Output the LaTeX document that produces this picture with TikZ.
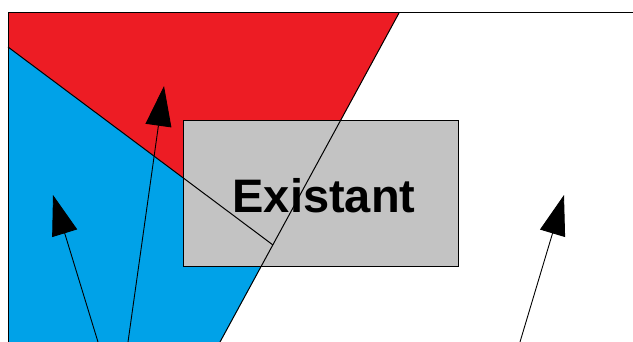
\documentclass[tikz,border=0pt]{standalone}
\usepackage{fontspec}
\setmainfont{Liberation Sans}
\usetikzlibrary{arrows.meta}
\definecolor{pred}{HTML}{ED1C24}
\definecolor{pblue}{HTML}{00A2E8}
\definecolor{pgray}{HTML}{C3C3C3}
\begin{document}
\begin{tikzpicture}[x=1pt,y=-1pt,
  edge/.style={draw=black,line width=1pt},
  pointer/.style={draw=black,line width=0.9pt,-{Triangle[length=40pt,width=26pt]}},
  boxstyle/.style={draw=black,line width=1pt,fill=pgray,minimum width=275pt,minimum height=146pt,inner sep=0pt}]
\useasboundingbox (0,0) rectangle (633,342);
\fill[white] (0,0) rectangle (633,342);
% corner points
\coordinate (tl) at (8,13);
\coordinate (tr) at (633,13);
\coordinate (bl) at (8,342);
\coordinate (rtop) at (399,13);
\coordinate (rbot) at (220,342);
\coordinate (bleft) at (8,47);
\coordinate (meet) at (273,245);
% regions
\fill[pred] (tl) -- (rtop) -- (meet) -- (bleft) -- cycle;
\fill[pblue] (bleft) -- (meet) -- (rbot) -- (bl) -- cycle;
% box
\node[boxstyle] (box) at (320.5,194) {};
% boundary lines
\draw[edge] (bleft) -- (meet);
\draw[edge] (rtop) -- (rbot);
\draw[edge] (tr) -- (tl) -- (bl);
% label
\node[anchor=base,inner sep=0pt,font=\fontsize{47}{50}\selectfont\bfseries] (label) at (324,213) {Existant};
% arrows
\coordinate (a1s) at (98,342);
\coordinate (a1e) at (53,195);
\coordinate (a2s) at (128,342);
\coordinate (a2e) at (164,86);
\coordinate (a3s) at (520,342);
\coordinate (a3e) at (564,195);
\draw[pointer] (a1s) -- (a1e);
\draw[pointer] (a2s) -- (a2e);
\draw[pointer] (a3s) -- (a3e);
\end{tikzpicture}
\end{document}
